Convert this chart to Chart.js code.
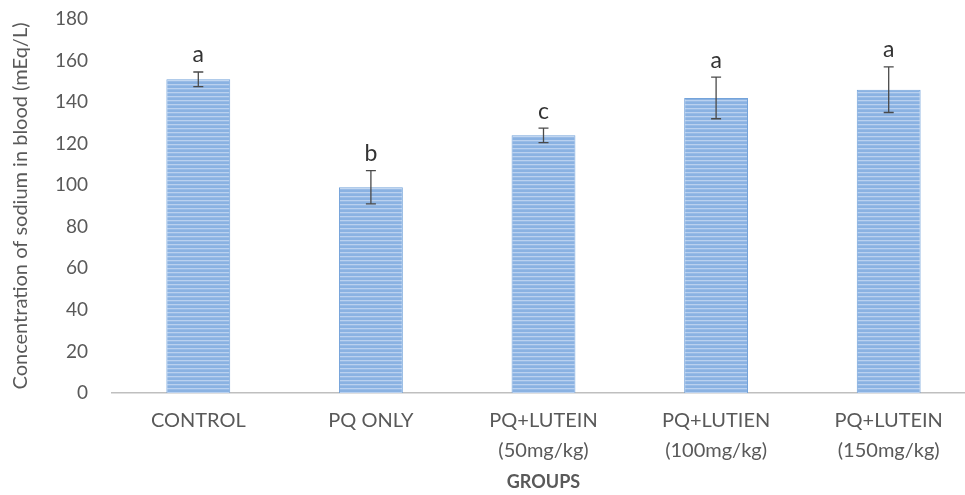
<!DOCTYPE html>
<html>
<head>
<meta charset="utf-8">
<script src="https://cdn.jsdelivr.net/npm/chart.js@4/dist/chart.umd.min.js"></script>
<style>
html,body{margin:0;padding:0;background:#fff;overflow:hidden;}
#wrap{width:990px;height:495px;}
</style>
</head>
<body>
<div id="wrap"><canvas id="c" width="990" height="495"></canvas></div>
<script>
const categories = [
  ["CONTROL"],
  ["PQ ONLY"],
  ["PQ+LUTEIN", "(50mg/kg)"],
  ["PQ+LUTIEN", "(100mg/kg)"],
  ["PQ+LUTEIN", "(150mg/kg)"]
];
const sodiumMeans = [151, 99, 124, 142, 146];
const sodiumErrors = [3.5, 8, 3.5, 10, 11];
const significanceLetters = ["a", "b", "c", "a", "a"];
const yTitle = "Concentration of sodium in blood (mEq/L)";
const xTitle = "GROUPS";

function makeStripePattern() {
  const p = document.createElement('canvas');
  p.width = 8; p.height = 4;
  const g = p.getContext('2d');
  g.fillStyle = '#8AB2E2';
  g.fillRect(0, 0, 8, 4);
  g.fillStyle = '#BAD1EF';
  g.fillRect(0, 0, 8, 1.3);
  return document.getElementById('c').getContext('2d').createPattern(p, 'repeat');
}

const errorAndLetters = {
  id: 'errorAndLetters',
  afterDatasetsDraw(chart) {
    const ctx = chart.ctx;
    const meta = chart.getDatasetMeta(0);
    const ys = chart.scales.y;
    ctx.save();
    meta.data.forEach((bar, i) => {
      const x = bar.x;
      const top = ys.getPixelForValue(sodiumMeans[i] + sodiumErrors[i]);
      const bot = ys.getPixelForValue(sodiumMeans[i] - sodiumErrors[i]);
      ctx.strokeStyle = '#4a4a4a';
      ctx.lineWidth = 1.3;
      ctx.beginPath();
      ctx.moveTo(x, top); ctx.lineTo(x, bot);
      ctx.moveTo(x - 5, top); ctx.lineTo(x + 5, top);
      ctx.moveTo(x - 5, bot); ctx.lineTo(x + 5, bot);
      ctx.stroke();
      ctx.fillStyle = '#333333';
      ctx.font = '23px Lato, "Liberation Sans", sans-serif';
      ctx.textAlign = 'center';
      ctx.textBaseline = 'middle';
      ctx.fillText(significanceLetters[i], x, top - 17);
    });
    ctx.restore();
  }
};

new Chart(document.getElementById('c'), {
  type: 'bar',
  data: {
    labels: categories,
    datasets: [{
      data: sodiumMeans,
      backgroundColor: makeStripePattern(),
      borderColor: '#74A3DA',
      borderWidth: {left: 1, right: 1, top: 1, bottom: 0},
      categoryPercentage: 1,
      barPercentage: 0.37
    }]
  },
  options: {
    responsive: false,
    animation: false,
    layout: {padding: {top: 19, right: 15, left: 0, bottom: 0}},
    plugins: {legend: {display: false}, tooltip: {enabled: false}},
    scales: {
      x: {
        grid: {display: false, drawTicks: false},
        border: {display: true, color: '#BFBFBF', width: 1.5},
        ticks: {
          color: '#595959',
          padding: 13,
          maxRotation: 0,
          autoSkip: false,
          font: {family: 'Lato, "Liberation Sans", sans-serif', size: 20, lineHeight: 1.5}
        },
        title: {
          display: true,
          text: xTitle,
          color: '#595959',
          padding: {top: 0, bottom: 2},
          font: {family: 'Lato, "Liberation Sans", sans-serif', size: 18, weight: 'bold'}
        },
        afterFit(s) { s.height = 102; }
      },
      y: {
        min: 0, max: 180,
        grid: {display: false, drawTicks: false},
        border: {display: false},
        ticks: {
          stepSize: 20,
          color: '#595959',
          padding: 24,
          font: {family: 'Lato, "Liberation Sans", sans-serif', size: 19}
        },
        title: {
          display: true,
          text: yTitle,
          color: '#595959',
          padding: {top: 9, bottom: 0},
          font: {family: 'Lato, "Liberation Sans", sans-serif', size: 20}
        },
        afterFit(s) { s.width = 112; s.paddingTop = 0; s.paddingBottom = 0; }
      }
    }
  },
  plugins: [errorAndLetters]
});
</script>
</body>
</html>
